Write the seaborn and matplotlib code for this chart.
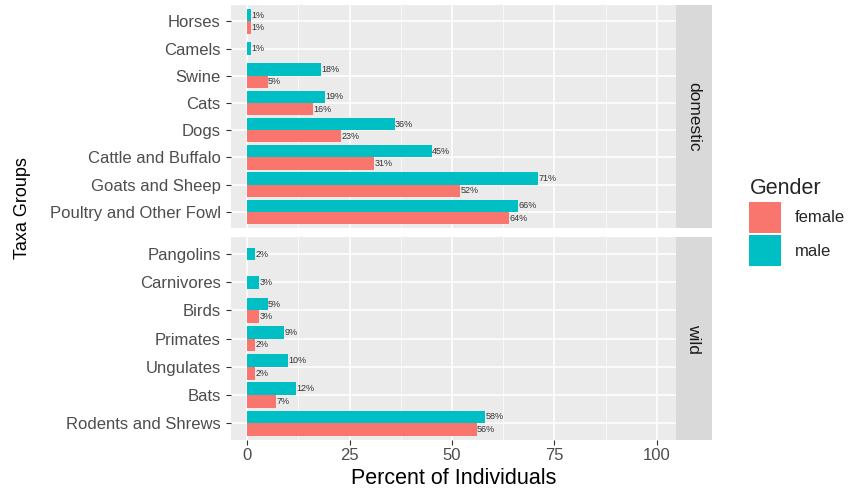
import pandas as pd
import seaborn as sns
import matplotlib.pyplot as plt
from matplotlib.patches import Patch
from matplotlib.ticker import MultipleLocator

# values (percent of individuals)
domestic_taxa = ["Horses", "Camels", "Swine", "Cats", "Dogs",
                 "Cattle and Buffalo", "Goats and Sheep", "Poultry and Other Fowl"]
domestic_male = [1, 1, 18, 19, 36, 45, 71, 66]
domestic_female = [1, None, 5, 16, 23, 31, 52, 64]

wild_taxa = ["Pangolins", "Carnivores", "Birds", "Primates", "Ungulates",
             "Bats", "Rodents and Shrews"]
wild_male = [2, 3, 5, 9, 10, 12, 58]
wild_female = [None, None, 3, 2, 2, 7, 56]

genders = ["male", "female"]
palette = {"female": "#F8766D", "male": "#00BFC4"}


def long_df(taxa, male, female):
    rows = []
    for t, m, f in zip(taxa, male, female):
        if m is not None:
            rows.append((t, "male", m))
        if f is not None:
            rows.append((t, "female", f))
    return pd.DataFrame(rows, columns=["Taxa", "Gender", "pct"])


sns.set_theme(style="darkgrid")
plt.rcParams["font.family"] = ["Liberation Sans", "DejaVu Sans"]

fig = plt.figure(figsize=(8.5, 4.94), dpi=100)
left, right = 0.272, 0.795
ax_dom = fig.add_axes([left, 0.538, right - left, 0.452])
ax_wild = fig.add_axes([left, 0.109, right - left, 0.411])


def draw_panel(ax, taxa, male, female, label):
    df = long_df(taxa, male, female)
    counts = df.groupby("Taxa")["Gender"].count()
    paired = df[df["Taxa"].map(counts) == 2]
    single = df[df["Taxa"].map(counts) == 1]
    sns.barplot(data=paired, y="Taxa", x="pct", hue="Gender", order=taxa,
                hue_order=genders, palette=palette, errorbar=None, width=0.9,
                saturation=1, legend=False, linewidth=0, ax=ax)
    if len(single):
        sns.barplot(data=single, y="Taxa", x="pct", hue="Gender", order=taxa,
                    hue_order=genders, palette=palette, errorbar=None,
                    width=0.45, dodge=False, saturation=1, legend=False,
                    linewidth=0, ax=ax)
    for cont in ax.containers:
        ax.bar_label(cont, fmt="%.0f%%", fontsize=6.5, padding=0.3, color="#333333")

    ax.set_facecolor("#EBEBEB")
    ax.set_xlim(-3.9, 104.6)
    ax.set_ylim(len(taxa) - 0.4, -0.6)
    ax.xaxis.set_major_locator(MultipleLocator(25))
    ax.xaxis.set_minor_locator(MultipleLocator(12.5))
    ax.set_axisbelow(True)
    ax.grid(which="major", color="white", linewidth=1.1)
    ax.grid(which="minor", axis="x", color="white", linewidth=0.5)
    for s in ax.spines.values():
        s.set_visible(False)
    ax.tick_params(axis="y", length=3.5, width=0.8, color="#333333",
                   labelsize=12, labelcolor="#4D4D4D", pad=4, left=True)
    ax.tick_params(axis="x", which="minor", length=0)
    ax.set_ylabel("")
    ax.set_xlabel("")

    # facet strip on the right
    pos = ax.get_position()
    strip = fig.add_axes([pos.x1, pos.y0, 0.043, pos.height])
    strip.set_facecolor("#D9D9D9")
    strip.set_xticks([])
    strip.set_yticks([])
    for s in strip.spines.values():
        s.set_visible(False)
    strip.text(0.5, 0.5, label, rotation=-90, ha="center", va="center",
               fontsize=12.5, color="#1A1A1A", transform=strip.transAxes)


draw_panel(ax_dom, domestic_taxa, domestic_male, domestic_female, "domestic")
draw_panel(ax_wild, wild_taxa, wild_male, wild_female, "wild")

ax_dom.tick_params(axis="x", which="major", length=0, labelbottom=False)
ax_wild.tick_params(axis="x", which="major", length=3.5, width=0.8, color="#333333",
                    labelsize=12, labelcolor="#4D4D4D", pad=2, bottom=True)
ax_wild.set_xlabel("Percent of Individuals", fontsize=15.5, color="black", labelpad=4)

fig.text(0.026, 0.579, "Taxa Groups", rotation=90, ha="center", va="center",
         fontsize=13, color="black")

handles = [Patch(facecolor=palette[g], edgecolor="none") for g in ["female", "male"]]
leg = fig.legend(handles, ["female", "male"], title="Gender",
                 loc="center left", bbox_to_anchor=(0.868, 0.55),
                 frameon=False, fontsize=12, title_fontsize=15.5,
                 handlelength=1.9, handleheight=2.5, handletextpad=0.8,
                 labelspacing=0.15, borderpad=0.2)
leg._legend_box.align = "left"

fig.savefig("out.png", dpi=100)
